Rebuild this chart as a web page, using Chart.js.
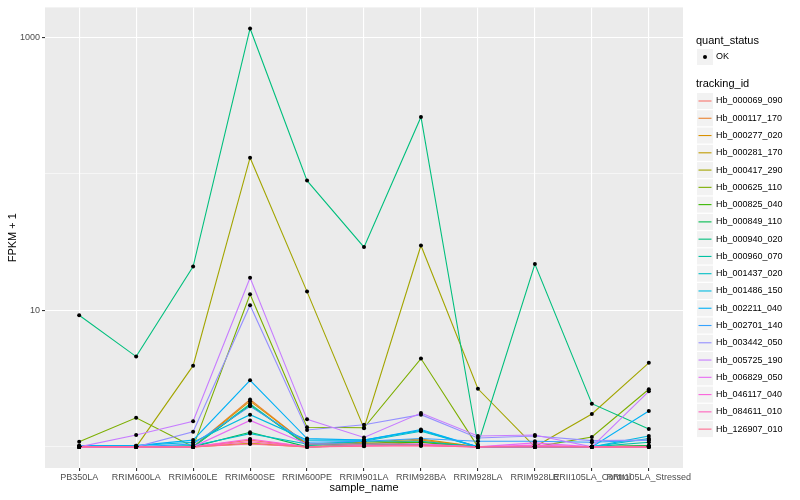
<!DOCTYPE html>
<html lang="en">
<head>
    <meta charset="UTF-8">
    <title>FPKM + 1 by sample</title>
    <script src="https://cdn.jsdelivr.net/npm/chart.js"></script>
    <style>
        html, body { margin: 0; padding: 0; background: #fff; }
        #wrap { width: 800px; height: 500px; }
    </style>
</head>
<body>
    <div id="wrap"><canvas id="grafico" width="800" height="500"></canvas></div>
    <script>
        const samples = ['PB350LA', 'RRIM600LA', 'RRIM600LE', 'RRIM600SE', 'RRIM600PE', 'RRIM901LA',
            'RRIM928BA', 'RRIM928LA', 'RRIM928LE', 'RRII105LA_Control', 'RRII105LA_Stressed'];

        const trackingIds = ['Hb_000069_090', 'Hb_000117_170', 'Hb_000277_020', 'Hb_000281_170', 'Hb_000417_290',
            'Hb_000625_110', 'Hb_000825_040', 'Hb_000849_110', 'Hb_000940_020', 'Hb_000960_070',
            'Hb_001437_020', 'Hb_001486_150', 'Hb_002211_040', 'Hb_002701_140', 'Hb_003442_050',
            'Hb_005725_190', 'Hb_006829_050', 'Hb_046117_040', 'Hb_084611_010', 'Hb_126907_010'];

        const colours = ['#F8766D', '#EA8331', '#D89000', '#C09B00', '#A3A500', '#7CAE00', '#39B600', '#00BB4E',
            '#00BF7D', '#00C1A3', '#00BFC4', '#00BAE0', '#00B0F6', '#35A2FF', '#9590FF', '#C77CFF',
            '#E76BF3', '#FA62DB', '#FF62BC', '#FF6C91'];

        // FPKM + 1, one value per sample
        const hb_000069_090 = [1.00, 1.00, 1.00, 1.12, 1.00, 1.03, 1.05, 1.00, 1.00, 1.00, 1.00];
        const hb_000117_170 = [1.00, 1.00, 1.00, 2.22, 1.04, 1.05, 1.12, 1.00, 1.00, 1.00, 1.02];
        const hb_000277_020 = [1.00, 1.00, 1.00, 2.16, 1.05, 1.08, 1.14, 1.00, 1.00, 1.00, 1.00];
        const hb_000281_170 = [1.00, 1.00, 1.00, 1.06, 1.00, 1.02, 1.08, 1.00, 1.00, 1.00, 1.00];
        const hb_000417_290 = [1.00, 1.00, 3.93, 131, 13.7, 1.37, 29.8, 2.66, 1.00, 1.74, 4.12];
        const hb_000625_110 = [1.09, 1.63, 1.00, 13.1, 1.39, 1.38, 4.43, 1.00, 1.00, 1.18, 2.64];
        const hb_000825_040 = [1.00, 1.00, 1.00, 2.02, 1.03, 1.06, 1.08, 1.00, 1.00, 1.00, 1.00];
        const hb_000849_110 = [1.00, 1.00, 1.00, 1.28, 1.00, 1.03, 1.04, 1.00, 1.00, 1.00, 1.02];
        const hb_000940_020 = [9.2, 4.58, 20.9, 1157, 89, 29, 260, 1.04, 21.8, 2.07, 1.35];
        const hb_000960_070 = [1.00, 1.00, 1.00, 2.06, 1.02, 1.10, 1.10, 1.00, 1.00, 1.00, 1.08];
        const hb_001437_020 = [1.00, 1.00, 1.02, 1.25, 1.05, 1.10, 1.30, 1.00, 1.00, 1.00, 1.15];
        const hb_001486_150 = [1.02, 1.02, 1.08, 1.72, 1.12, 1.12, 1.32, 1.00, 1.00, 1.00, 1.20];
        const hb_002211_040 = [1.02, 1.02, 1.12, 3.07, 1.15, 1.12, 1.34, 1.00, 1.00, 1.00, 1.83];
        const hb_002701_140 = [1.00, 1.00, 1.05, 1.98, 1.08, 1.10, 1.15, 1.10, 1.10, 1.08, 1.12];
        const hb_003442_050 = [1.00, 1.00, 1.29, 10.9, 1.33, 1.45, 1.72, 1.16, 1.20, 1.11, 1.12];
        const hb_005725_190 = [1.00, 1.22, 1.54, 17.3, 1.59, 1.17, 1.77, 1.20, 1.22, 1.00, 2.55];
        const hb_006829_050 = [1.00, 1.00, 1.00, 1.56, 1.05, 1.05, 1.05, 1.00, 1.07, 1.00, 1.00];
        const hb_046117_040 = [1.00, 1.00, 1.00, 1.14, 1.00, 1.02, 1.03, 1.00, 1.03, 1.00, 1.00];
        const hb_084611_010 = [1.00, 1.00, 1.00, 1.09, 1.00, 1.02, 1.02, 1.00, 1.00, 1.00, 1.00];
        const hb_126907_010 = [1.00, 1.00, 1.00, 1.05, 1.00, 1.01, 1.02, 1.00, 1.00, 1.00, 1.00];

        const series = [hb_000069_090, hb_000117_170, hb_000277_020, hb_000281_170, hb_000417_290,
            hb_000625_110, hb_000825_040, hb_000849_110, hb_000940_020, hb_000960_070,
            hb_001437_020, hb_001486_150, hb_002211_040, hb_002701_140, hb_003442_050,
            hb_005725_190, hb_006829_050, hb_046117_040, hb_084611_010, hb_126907_010];

        const yTicks = [1, 10, 100, 1000];
        const yLabelled = [10, 1000];

        const FONT = '"Liberation Sans", Arial, sans-serif';
        Chart.defaults.font.family = FONT;

        // grey panel behind the grid
        const panelBg = {
            id: 'panelBg',
            beforeDraw(chart) {
                const { ctx, chartArea: a } = chart;
                ctx.save();
                ctx.fillStyle = '#EBEBEB';
                ctx.fillRect(a.left, a.top, a.right - a.left, a.bottom - a.top);
                ctx.restore();
            }
        };

        // ggplot-like legend on the right
        const sideLegend = {
            id: 'sideLegend',
            afterDraw(chart) {
                const ctx = chart.ctx;
                ctx.save();
                ctx.textBaseline = 'middle';
                ctx.textAlign = 'left';
                ctx.fillStyle = '#000';
                ctx.font = '11px ' + FONT;
                ctx.fillText('quant_status', 696, 41);
                ctx.fillStyle = '#F2F2F2';
                ctx.fillRect(697, 49, 16, 16);
                ctx.fillStyle = '#000';
                ctx.beginPath();
                ctx.arc(705, 57, 2, 0, Math.PI * 2);
                ctx.fill();
                ctx.font = '9px ' + FONT;
                ctx.fillText('OK', 716, 57);

                ctx.font = '11px ' + FONT;
                ctx.fillText('tracking_id', 696, 84);
                ctx.font = '9px ' + FONT;
                trackingIds.forEach((id, i) => {
                    const cy = 101 + i * 17.27;
                    ctx.fillStyle = '#F2F2F2';
                    ctx.fillRect(697, cy - 8, 16, 16);
                    ctx.strokeStyle = colours[i];
                    ctx.lineWidth = 1.1;
                    ctx.beginPath();
                    ctx.moveTo(698.5, cy);
                    ctx.lineTo(711.5, cy);
                    ctx.stroke();
                    ctx.fillStyle = '#000';
                    ctx.fillText(id, 716, cy);
                });
                ctx.restore();
            }
        };

        const lineSets = series.map((vals, i) => ({
            label: trackingIds[i],
            data: vals.map((v, j) => ({ x: j, y: v })),
            borderColor: colours[i],
            borderWidth: 1.1,
            pointRadius: 0,
            pointHoverRadius: 0,
            fill: false,
            tension: 0,
            order: series.length - i
        }));

        const pointSet = {
            label: 'OK',
            data: series.flatMap(vals => vals.map((v, j) => ({ x: j, y: v }))),
            showLine: false,
            pointRadius: 2,
            pointHoverRadius: 2,
            pointBackgroundColor: '#000',
            pointBorderWidth: 0,
            order: -1
        };

        const isMajor = c => c.tick && yLabelled.includes(c.tick.value);

        new Chart(document.getElementById('grafico'), {
            type: 'line',
            data: { datasets: [...lineSets, pointSet] },
            options: {
                responsive: false,
                animation: false,
                layout: { padding: { top: 5, right: 117, left: 0, bottom: 0 } },
                plugins: {
                    legend: { display: false },
                    tooltip: { enabled: false }
                },
                scales: {
                    x: {
                        type: 'linear',
                        min: -0.6,
                        max: 10.6,
                        afterBuildTicks: s => { s.ticks = samples.map((_, i) => ({ value: i })); },
                        afterFit: s => { s.height = 32; },
                        ticks: {
                            callback: v => samples[v],
                            autoSkip: false,
                            maxRotation: 0,
                            minRotation: 0,
                            color: '#4D4D4D',
                            font: { size: 9 },
                            padding: 1
                        },
                        grid: { color: '#FFFFFF', lineWidth: 1.1, tickLength: 3, tickColor: '#333333' },
                        border: { display: false },
                        title: {
                            display: true,
                            text: 'sample_name',
                            color: '#000',
                            font: { size: 11 },
                            padding: { top: 0, bottom: 5 }
                        }
                    },
                    y: {
                        type: 'logarithmic',
                        min: 0.72,
                        max: 1650,
                        afterBuildTicks: s => { s.ticks = yTicks.map(v => ({ value: v })); },
                        afterFit: s => { s.width = 45; },
                        ticks: {
                            callback: v => yLabelled.includes(v) ? String(v) : '',
                            color: '#4D4D4D',
                            font: { size: 9 },
                            padding: 2
                        },
                        grid: {
                            color: '#FFFFFF',
                            lineWidth: c => isMajor(c) ? 1.1 : 0.55,
                            tickLength: 3,
                            tickColor: c => isMajor(c) ? '#333333' : 'rgba(0,0,0,0)'
                        },
                        border: { display: false },
                        title: {
                            display: true,
                            text: 'FPKM + 1',
                            color: '#000',
                            font: { size: 11 },
                            padding: { top: 6, bottom: 0 }
                        }
                    }
                }
            },
            plugins: [panelBg, sideLegend]
        });
    </script>
</body>
</html>
